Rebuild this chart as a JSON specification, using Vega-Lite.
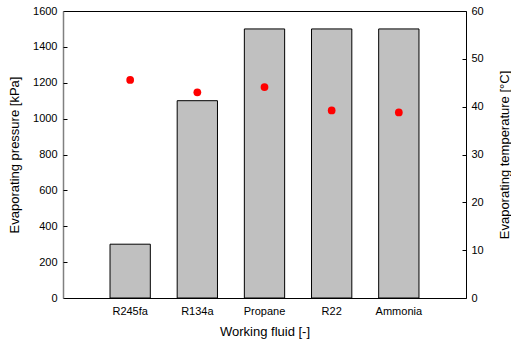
{
  "$schema": "https://vega.github.io/schema/vega-lite/v6.json",
  "width": 403,
  "height": 287,
  "autosize": {"type": "none"},
  "padding": {"left": 63, "top": 11, "right": 45, "bottom": 45},
  "background": "white",
  "config": {
    "font": "Liberation Sans",
    "view": {"stroke": "#000000", "strokeWidth": 1},
    "axis": {
      "labelFont": "Liberation Sans",
      "titleFont": "Liberation Sans",
      "labelFontSize": 11,
      "titleFontSize": 13,
      "titleFontWeight": "normal",
      "labelColor": "#000000",
      "titleColor": "#000000",
      "grid": false,
      "domainColor": "#000000",
      "tickColor": "#000000"
    }
  },
  "data": {
    "values": [
      {"fluid": "R245fa", "pressure": 300, "temperature": 45.6},
      {"fluid": "R134a", "pressure": 1100, "temperature": 43.0},
      {"fluid": "Propane", "pressure": 1500, "temperature": 44.1},
      {"fluid": "R22", "pressure": 1500, "temperature": 39.2},
      {"fluid": "Ammonia", "pressure": 1500, "temperature": 38.8}
    ]
  },
  "encoding": {
    "x": {
      "field": "fluid",
      "type": "nominal",
      "sort": null,
      "scale": {"paddingInner": 0.4, "paddingOuter": 0.7},
      "axis": {
        "title": "Working fluid [-]",
        "labelAngle": 0,
        "ticks": false,
        "domain": false,
        "labelPadding": 7,
        "titlePadding": 9
      }
    }
  },
  "layer": [
    {
      "mark": {"type": "bar", "fill": "#C0C0C0", "stroke": "#000000", "strokeWidth": 1},
      "encoding": {
        "y": {
          "field": "pressure",
          "type": "quantitative",
          "scale": {"domain": [0, 1600], "nice": false},
          "axis": {
            "title": "Evaporating pressure [kPa]",
            "orient": "left",
            "format": "d",
            "values": [0, 200, 400, 600, 800, 1000, 1200, 1400, 1600],
            "ticks": false,
            "labelPadding": 6,
            "titlePadding": 11,
            "domainColor": "#808080",
            "domainWidth": 1.5
          }
        }
      }
    },
    {
      "mark": {"type": "bar", "opacity": 0},
      "encoding": {
        "y": {
          "field": "pressure",
          "type": "quantitative",
          "scale": {"domain": [0, 1600], "nice": false},
          "axis": {
            "title": null,
            "orient": "right",
            "offset": -403,
            "values": [200, 400, 600, 800, 1000, 1200, 1400],
            "labels": false,
            "domain": false,
            "ticks": true,
            "tickSize": 4,
            "tickWidth": 1
          }
        }
      }
    },
    {
      "mark": {"type": "point", "opacity": 0},
      "encoding": {
        "y": {
          "field": "temperature",
          "type": "quantitative",
          "scale": {"domain": [0, 60], "nice": false},
          "axis": {
            "title": null,
            "orient": "left",
            "offset": -403,
            "values": [10, 20, 30, 40, 50],
            "labels": false,
            "domain": false,
            "ticks": true,
            "tickSize": 4,
            "tickWidth": 1
          }
        }
      }
    },
    {
      "mark": {"type": "point", "filled": true, "color": "#FF0000", "size": 60, "opacity": 1},
      "encoding": {
        "y": {
          "field": "temperature",
          "type": "quantitative",
          "scale": {"domain": [0, 60], "nice": false},
          "axis": {
            "title": "Evaporating temperature [°C]",
            "orient": "right",
            "format": "d",
            "values": [0, 10, 20, 30, 40, 50, 60],
            "ticks": false,
            "labelPadding": 5,
            "titleAngle": 270,
            "titlePadding": 28
          }
        }
      }
    }
  ],
  "resolve": {"scale": {"y": "independent"}}
}
